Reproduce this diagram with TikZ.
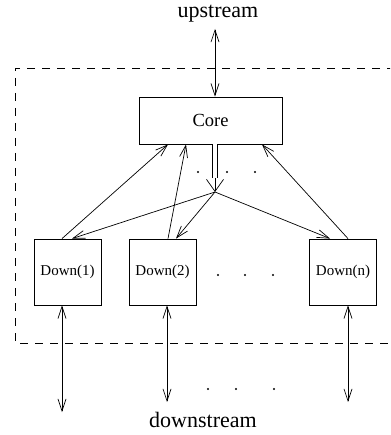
\documentclass[tikz,border=0pt]{standalone}
\usepackage{fontspec}
\setmainfont{Liberation Serif}
\usetikzlibrary{arrows.meta}

\begin{document}
\begin{tikzpicture}[x=1pt, y=-1pt,
    box/.style={draw, line width=0.8pt, inner sep=0pt},
    con/.style={line width=0.7pt},
    tip/.style={-{Straight Barb[length=12pt, width=8pt, line width=0.7pt]}},
    both/.style={{Straight Barb[length=12pt, width=8pt, line width=0.7pt]}-{Straight Barb[length=12pt, width=8pt, line width=0.7pt]}},
    dot/.style={circle, fill, inner sep=0pt, minimum size=2.4pt}]
    \clip (0,0) rectangle (390,435);

    % boxes
    \node[box, minimum width=143pt, minimum height=47pt, font=\fontsize{18.5}{22}\selectfont] (core) at (210.5,120.5) {Core};
    \node[box, minimum width=67pt, minimum height=66pt, font=\fontsize{15}{18}\selectfont] (down1) at (67.5,272) {Down(1)};
    \node[box, minimum width=67pt, minimum height=66pt, font=\fontsize{15}{18}\selectfont] (down2) at (162.5,272) {Down(2)};
    \node[box, minimum width=67pt, minimum height=66pt, font=\fontsize{15}{18}\selectfont] (downn) at (343,272) {Down(n)};

    \node[font=\fontsize{22}{26}\selectfont] (up) at (218,14) {upstream};
    \node[font=\fontsize{22}{26}\selectfont] (dn) at (203,420) {downstream};

    \coordinate (a0) at (215,29);
    \coordinate (a1) at (215,192);
    \coordinate (a2) at (215,178);
    \coordinate (b1) at (62,412);
    \coordinate (b2) at (167,402);
    \coordinate (bn) at (348,402);

    %\foreach \i in {0,1,2} \fill (a\i) circle (2pt);

    \draw[dashed, dash pattern=on 8pt off 7pt, line width=0.7pt] (395,68) -- (15,68) -- (15,343) -- (395,343);

    \draw[con, both] (a0) -- (core.north -| a0);

    % core to the down boxes
    \draw[con, double, double distance=4.5pt] (core.south -| a1) -- (a2);
    \draw[con, -{Straight Barb[length=12pt, width=17pt, line width=0.7pt]}] (a2) -- (a1);
    \draw[con, tip] (a1) -- (down1.north -| 72,0);
    \draw[con, tip] (a1) -- (down2.north -| 176,0);
    \draw[con, tip] (a1) -- (downn.north -| 330,0);

    % down boxes to core
    \draw[con, tip] (down1.north -| 62,0) -- (core.south -| 168,0);
    \draw[con, tip] (down2.north -| 168,0) -- (core.south -| 186,0);
    \draw[con, tip] (downn.north -| 348,0) -- (core.south -| 262,0);

    \draw[con, both] (down1.south -| b1) -- (b1);
    \draw[con, both] (down2.south -| b2) -- (b2);
    \draw[con, both] (downn.south -| bn) -- (bn);

    \foreach \x in {198,227,255} \node[dot] at (\x,172) {};
    \foreach \x in {218,245,273} \node[dot] at (\x,275) {};
    \foreach \x in {208,236,274} \node[dot] at (\x,389) {};
  \end{tikzpicture}
\end{document}
